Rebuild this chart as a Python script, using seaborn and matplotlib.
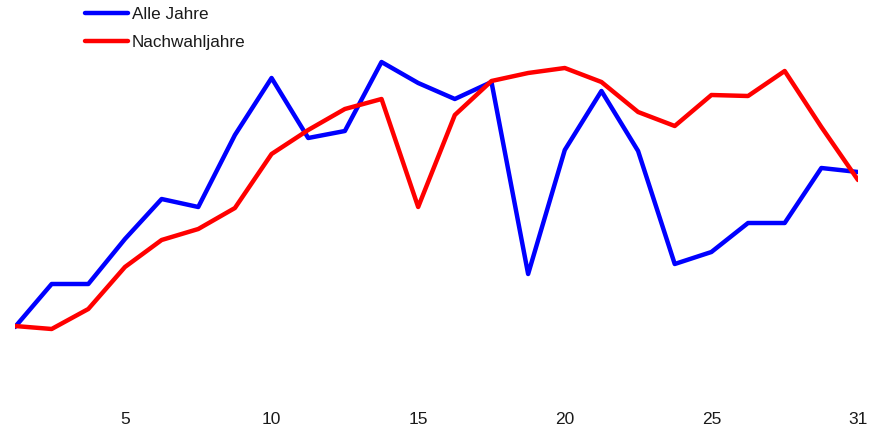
import pandas as pd
import seaborn as sns
import matplotlib
matplotlib.use('Agg')
import matplotlib.pyplot as plt

# Handelstage im Monat (Position) und Beschriftung der Achse
tage = list(range(1, 25))
tick_pos = [4, 8, 12, 16, 20, 24]
tick_labels = ['5', '10', '15', '20', '25', '31']

# Werte (relative Einheiten)
alle_jahre = [0.75, 1.18, 1.18, 1.63, 2.03, 1.95, 2.67, 3.24, 2.64, 2.71, 3.40, 3.19,
              3.03, 3.20, 1.28, 2.52, 3.11, 2.51, 1.38, 1.50, 1.79, 1.79, 2.34, 2.30]
nachwahljahre = [0.76, 0.73, 0.93, 1.35, 1.62, 1.73, 1.94, 2.48, 2.72, 2.93, 3.03, 1.95,
                 2.87, 3.21, 3.29, 3.34, 3.20, 2.90, 2.76, 3.07, 3.06, 3.31, 2.75, 2.22]

df = pd.DataFrame({
    'Tag': tage * 2,
    'Wert': alle_jahre + nachwahljahre,
    'Serie': ['Alle Jahre'] * len(tage) + ['Nachwahljahre'] * len(tage),
})

sns.set_theme(style='white')
plt.rcParams['font.family'] = ['Liberation Sans', 'DejaVu Sans']

fig = plt.figure(figsize=(8.69, 4.29), dpi=100)
ax = fig.add_axes([15 / 869, 27 / 429, 843 / 869, 397 / 429])

sns.lineplot(data=df, x='Tag', y='Wert', hue='Serie',
             palette={'Alle Jahre': '#0000ff', 'Nachwahljahre': '#ff0000'},
             linewidth=3.2, ax=ax, legend=True)

ax.set_xlim(1, 24)
ax.set_ylim(0, 3.97)
ax.set_xticks(tick_pos)
ax.set_xticklabels(tick_labels, fontsize=12.5, color='#1a1a1a')
ax.set_yticks([])
ax.tick_params(axis='x', length=0, pad=7)
ax.set_xlabel('')
ax.set_ylabel('')
for s in ax.spines.values():
    s.set_visible(False)

handles, labels = ax.get_legend_handles_labels()
ax.get_legend().remove()
leg = fig.legend(handles, labels, loc='upper left', bbox_to_anchor=(85 / 869, 1 - 7 / 429),
                 frameon=False, fontsize=12.3, handlelength=2.5, handletextpad=0.25,
                 labelspacing=0.78, borderpad=0, borderaxespad=0)
for t in leg.get_texts():
    t.set_color('#1a1a1a')

plt.savefig('out.png', dpi=100)
